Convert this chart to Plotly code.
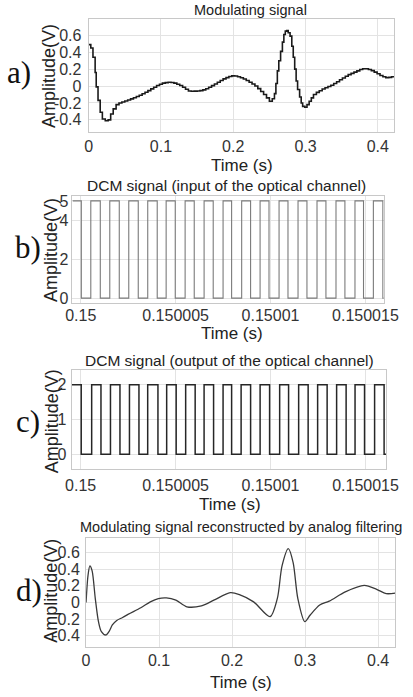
import plotly.graph_objects as go

# ---------------- data ----------------
# a) modulating signal (sample-and-hold), time in s, amplitude in V
a_t = [0, 0.003, 0.006, 0.009, 0.0105, 0.013, 0.016, 0.019, 0.023, 0.027,
       0.0305, 0.034, 0.038, 0.042, 0.046, 0.050, 0.054, 0.058, 0.062, 0.066,
       0.070, 0.074, 0.078, 0.082, 0.086, 0.090, 0.094, 0.098, 0.102, 0.106,
       0.110, 0.114, 0.118, 0.122, 0.126, 0.130, 0.134, 0.138, 0.142, 0.146,
       0.150, 0.154, 0.158, 0.162, 0.166, 0.170, 0.174, 0.178, 0.182, 0.186,
       0.190, 0.194, 0.198, 0.202, 0.206, 0.210, 0.214, 0.218, 0.222, 0.226,
       0.230, 0.234, 0.238, 0.242, 0.246, 0.250, 0.254, 0.257, 0.259, 0.261,
       0.263, 0.2655, 0.268, 0.270, 0.272, 0.274, 0.276, 0.2786, 0.281, 0.283,
       0.285, 0.287, 0.289, 0.2918, 0.294, 0.296, 0.299, 0.302, 0.305, 0.308,
       0.311, 0.315, 0.319, 0.323, 0.327, 0.331, 0.335, 0.339, 0.343, 0.347,
       0.351, 0.355, 0.359, 0.363, 0.367, 0.371, 0.375, 0.379, 0.383, 0.387,
       0.391, 0.395, 0.399, 0.403, 0.407, 0.411, 0.415, 0.419, 0.4235]
a_v = [0.49, 0.45, 0.34, 0.16, -0.01, -0.17, -0.31, -0.39, -0.41, -0.40,
       -0.33, -0.27, -0.22, -0.20, -0.188, -0.177, -0.165, -0.152, -0.139, -0.124,
       -0.108, -0.091, -0.073, -0.054, -0.034, -0.014, 0.006, 0.022, 0.034, 0.041,
       0.045, 0.042, 0.035, 0.022, 0.006, -0.014, -0.038, -0.058, -0.062, -0.06,
       -0.058, -0.054, -0.045, -0.032, -0.015, 0.005, 0.025, 0.045, 0.065, 0.085,
       0.10, 0.113, 0.12, 0.118, 0.11, 0.098, 0.083, 0.065, 0.045, 0.025,
       0.0, -0.03, -0.065, -0.10, -0.14, -0.18, -0.15, -0.09, 0.03, 0.18,
       0.30, 0.41, 0.52, 0.61, 0.65, 0.655, 0.63, 0.59, 0.47, 0.34,
       0.20, 0.06, -0.04, -0.13, -0.20, -0.24, -0.25, -0.22, -0.18, -0.14,
       -0.10, -0.075, -0.055, -0.035, -0.02, -0.005, 0.01, 0.03, 0.05, 0.075,
       0.095, 0.115, 0.135, 0.15, 0.165, 0.18, 0.195, 0.205, 0.205, 0.195,
       0.183, 0.165, 0.145, 0.125, 0.11, 0.10, 0.103, 0.11, 0.113]

# b) DCM signal, input of optical channel: transition instants (microseconds after 0.15 s)
b_start_us, b_end_us = -0.435, 15.97
b_edges_us = [0.03, 0.53, 1.03, 1.53, 2.03, 2.53, 3.03, 3.53, 4.03, 4.50,
              4.98, 5.50, 5.98, 6.50, 6.98, 7.50, 7.95, 8.48, 8.95, 9.45,
              9.92, 10.45, 10.92, 11.45, 11.92, 12.45, 12.92, 13.45, 13.92,
              14.45, 14.90, 15.42, 15.92]
b_levels = [5, 0]  # high, low (V)

# c) DCM signal, output of optical channel
c_start_us, c_end_us = -0.48, 16.09
c_edges_us = [0.03, 0.58, 1.07, 1.57, 2.07, 2.57, 3.07, 3.53, 4.07, 4.53,
              5.03, 5.53, 6.03, 6.50, 7.00, 7.50, 7.95, 8.45, 8.95, 9.45,
              9.95, 10.48, 10.95, 11.48, 11.98, 12.48, 12.98, 13.48, 13.98,
              14.45, 14.95, 15.48, 15.98]
c_levels = [2.0, 0.0]

# d) reconstructed signal
d_t = [0, 0.0026, 0.0052, 0.0083, 0.0126, 0.017, 0.021, 0.027, 0.032, 0.036,
       0.042, 0.050, 0.058, 0.075, 0.088, 0.099, 0.110, 0.123, 0.138, 0.158, 0.175,
       0.1975, 0.21, 0.2295, 0.252, 0.262, 0.2684, 0.277, 0.2836, 0.29, 0.2996,
       0.307, 0.320, 0.333, 0.355, 0.381, 0.398, 0.411, 0.4235]
d_v = [0.0, 0.32, 0.44, 0.38, 0.05, -0.23, -0.35, -0.39, -0.34, -0.27,
       -0.215, -0.18, -0.14, -0.063, 0.008, 0.047, 0.055, 0.028, -0.051, -0.04, 0.028,
       0.118, 0.095, 0.008, -0.17, 0.05, 0.44, 0.647, 0.48, 0.05, -0.23,
       -0.15, -0.03, 0.016, 0.127, 0.205, 0.158, 0.107, 0.113]

# tick labels
t_ticks = [0, 0.1, 0.2, 0.3, 0.4]
t_ticktext = ["0", "0.1", "0.2", "0.3", "0.4"]
amp_ticks = [-0.4, -0.2, 0, 0.2, 0.4, 0.6]
a_amp_text = ["-0.4", "-0.2", "0", "0.2", "0.4", "0.6"]
d_amp_text = ["-0.4", "0.2", "0", "0.2", "0.4", "0.6"]
us_ticks = [0.15, 0.150005, 0.15001, 0.150015]
us_ticktext = ["0.15", "0.150005", "0.15001", "0.150015"]
b_yticks = [0, 2, 4, 5]
c_yticks = [0, 1, 2]

titles = ["Modulating signal",
          "DCM signal (input of the optical channel)",
          "DCM signal (output of the optical channel)",
          "Modulating signal reconstructed by analog filtering"]
panel_labels = ["a)", "b)", "c)", "d)"]

# ---------------- helpers ----------------
W, H = 413, 697
T0 = 0.15


def px(x):
    return x / W


def py(y):
    return 1 - y / H


def square(start_us, end_us, edges_us, levels):
    xs = [T0 + start_us * 1e-6]
    ys = [levels[0]]
    for i, e in enumerate(edges_us):
        xs.append(T0 + e * 1e-6)
        ys.append(levels[(i + 1) % 2])
    xs.append(T0 + end_us * 1e-6)
    ys.append(ys[-1])
    return xs, ys


fig = go.Figure()

fig.add_trace(go.Scatter(x=a_t, y=a_v, mode="lines", line=dict(color="#1a1a1a", width=1.6, shape="hv"),
                         xaxis="x", yaxis="y", showlegend=False))
bx, by = square(b_start_us, b_end_us, b_edges_us, b_levels)
fig.add_trace(go.Scatter(x=bx, y=by, mode="lines", line=dict(color="#7a7a7a", width=1.1, shape="hv"),
                         xaxis="x2", yaxis="y2", showlegend=False))
cx, cy = square(c_start_us, c_end_us, c_edges_us, c_levels)
fig.add_trace(go.Scatter(x=cx, y=cy, mode="lines", line=dict(color="#262626", width=1.5, shape="hv"),
                         xaxis="x3", yaxis="y3", showlegend=False))
fig.add_trace(go.Scatter(x=d_t, y=d_v, mode="lines", line=dict(color="#3a3a3a", width=1.3, shape="spline", smoothing=0.8),
                         xaxis="x4", yaxis="y4", showlegend=False))

FONT = "Liberation Sans, Arial, sans-serif"
SERIF = "Liberation Serif, Times New Roman, serif"
TICKFONT = dict(family=FONT, size=16, color="#333333")
GRID = "#e3e3e3"
BOX = "#c8c8c8"

common = dict(showgrid=True, gridcolor=GRID, gridwidth=1, zeroline=False, showline=True,
              linecolor=BOX, linewidth=1, mirror=True, ticks="", tickfont=TICKFONT,
              tickmode="array", ticklabeloverflow="allow")

# panel geometry in pixels: (left, right, top, bottom)
boxes = [(86, 408, 16, 130), (69, 397, 195, 303), (68, 399.5, 371, 471), (83.3, 409, 540, 651)]

xr = [[0, 0.4227],
      [T0 + b_start_us * 1e-6, T0 + b_end_us * 1e-6],
      [T0 + c_start_us * 1e-6, T0 + c_end_us * 1e-6],
      [0, 0.4234]]
yr = [[-0.54, 0.795], [-0.25, 5.25], [-0.43, 2.42], [-0.54, 0.78]]
xtv = [t_ticks, us_ticks, us_ticks, t_ticks]
xtt = [t_ticktext, us_ticktext, us_ticktext, t_ticktext]
ytv = [amp_ticks, b_yticks, c_yticks, amp_ticks]
ytt = [a_amp_text, [str(v) for v in b_yticks], [str(v) for v in c_yticks], d_amp_text]
xstand = [0, -2, 2, -2]
ystand = [3, 0, 1, 2]

layout = dict(width=W, height=H, margin=dict(l=0, r=0, t=0, b=0),
              paper_bgcolor="white", plot_bgcolor="white", showlegend=False)
for i, (l, r, t, b) in enumerate(boxes):
    n = "" if i == 0 else str(i + 1)
    layout["xaxis" + n] = dict(common, domain=[px(l), px(r)], range=xr[i], anchor="y" + n,
                               tickvals=xtv[i], ticktext=xtt[i], ticklabelstandoff=xstand[i])
    layout["yaxis" + n] = dict(common, domain=[py(b), py(t)], range=yr[i], anchor="x" + n,
                               tickvals=ytv[i], ticktext=ytt[i], ticklabelstandoff=ystand[i])
fig.update_layout(**layout)

ann = []
title_pos = [(257, 7, 14.5), (231, 184, 15.5), (234, 361, 15.5), (247, 529, 14.5)]
for (x, y, s), txt in zip(title_pos, titles):
    ann.append(dict(text=txt, x=px(x), y=py(y), xref="paper", yref="paper", showarrow=False,
                    xanchor="center", yanchor="middle", font=dict(family=FONT, size=s, color="#222222")))
time_pos = [(248, 164), (237, 334), (235, 507), (247, 686)]
for x, y in time_pos:
    ann.append(dict(text="Time (s)", x=px(x), y=py(y), xref="paper", yref="paper", showarrow=False,
                    xanchor="center", yanchor="middle", font=dict(family=FONT, size=17, color="#222222")))
amp_pos = [(45, 74), (47, 250), (47, 423), (46, 594)]
for x, y in amp_pos:
    ann.append(dict(text="Amplitude(V)", x=px(x), y=py(y), xref="paper", yref="paper", showarrow=False,
                    textangle=-90, xanchor="center", yanchor="middle",
                    font=dict(family=FONT, size=18, color="#222222")))
lab_pos = [(13, 70), (22, 247), (22, 423), (23, 593)]
for (x, y), txt in zip(lab_pos, panel_labels):
    ann.append(dict(text=txt, x=px(x), y=py(y), xref="paper", yref="paper", showarrow=False,
                    xanchor="center", yanchor="middle", font=dict(family=SERIF, size=31, color="#111111")))
fig.update_layout(annotations=ann)

fig.write_html("out.html")
